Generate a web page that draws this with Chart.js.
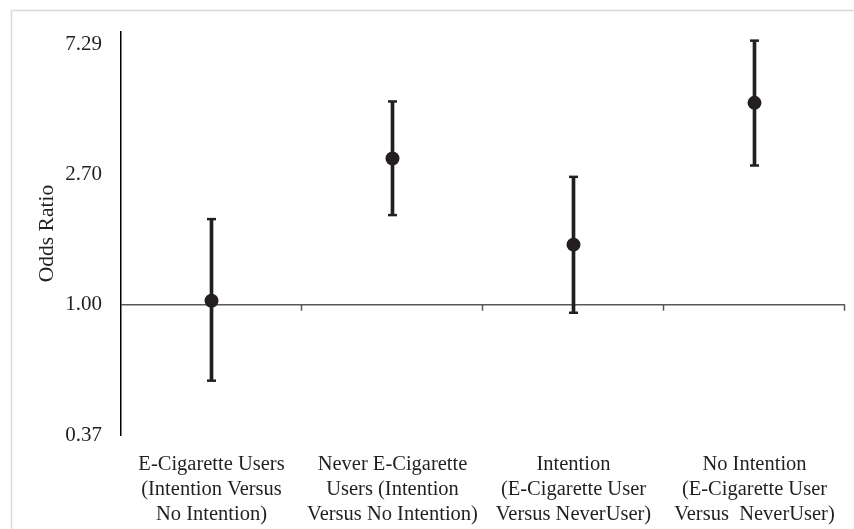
<!DOCTYPE html>
<html>
<head>
<meta charset="utf-8">
<script src="https://cdn.jsdelivr.net/npm/chart.js@4/dist/chart.umd.min.js"></script>
<style>
  html, body { margin: 0; padding: 0; background: #ffffff; }
  #wrap { width: 854px; height: 529px; position: relative; }
</style>
</head>
<body>
<div id="wrap"><canvas id="c" width="854" height="529"></canvas></div>
<script>
const categories = [
  ["E-Cigarette Users", "(Intention Versus", "No Intention)"],
  ["Never E-Cigarette", "Users (Intention", "Versus No Intention)"],
  ["Intention", "(E-Cigarette User", "Versus NeverUser)"],
  ["No Intention", "(E-Cigarette User", "Versus  NeverUser)"]
];
const oddsRatio = [1.03, 3.05, 1.58, 4.66];
const lowerCI   = [0.56, 1.98, 0.94, 2.89];
const upperCI   = [1.92, 4.71, 2.65, 7.49];
const yTicks    = [0.37, 1.00, 2.70, 7.29];
const yMin = 0.37, yMax = 8.0;
const refValue = 1.0;

const ink = '#231f20';
const fontFamily = '"Liberation Serif", "Times New Roman", serif';

const framePlugin = {
  id: 'frame',
  beforeDraw(chart) {
    const ctx = chart.ctx;
    ctx.save();
    ctx.fillStyle = '#ffffff';
    ctx.fillRect(0, 0, chart.width, chart.height);
    ctx.strokeStyle = '#d9d9d9';
    ctx.lineWidth = 1.5;
    ctx.strokeRect(11.5, 10.5, chart.width + 20, chart.height + 20);
    ctx.restore();
  }
};

const refLinePlugin = {
  id: 'refLine',
  beforeDatasetsDraw(chart) {
    const ctx = chart.ctx;
    const area = chart.chartArea;
    const y = chart.scales.y.getPixelForValue(refValue);
    const n = categories.length;
    const w = (area.right - area.left) / n;
    ctx.save();
    ctx.strokeStyle = '#595959';
    ctx.lineWidth = 1.5;
    ctx.beginPath();
    ctx.moveTo(area.left, y);
    ctx.lineTo(area.right, y);
    for (let k = 1; k <= n; k++) {
      const x = Math.round(area.left + k * w) - 0.5;
      ctx.moveTo(x, y);
      ctx.lineTo(x, y + 6);
    }
    ctx.stroke();
    ctx.restore();
  }
};

new Chart(document.getElementById('c'), {
  type: 'bar',
  data: {
    labels: categories,
    datasets: [
      {
        type: 'line',
        data: oddsRatio,
        showLine: false,
        pointStyle: 'circle',
        pointRadius: 7,
        pointBackgroundColor: ink,
        pointBorderWidth: 0,
        order: 0
      },
      {
        type: 'line',
        data: upperCI,
        showLine: false,
        pointStyle: 'line',
        pointRadius: 4.5,
        pointBorderColor: ink,
        pointBorderWidth: 2.5,
        order: 1
      },
      {
        type: 'line',
        data: lowerCI,
        showLine: false,
        pointStyle: 'line',
        pointRadius: 4.5,
        pointBorderColor: ink,
        pointBorderWidth: 2.5,
        order: 1
      },
      {
        type: 'bar',
        data: categories.map((c, i) => [lowerCI[i], upperCI[i]]),
        backgroundColor: ink,
        borderWidth: 0,
        barThickness: 3,
        order: 2
      }
    ]
  },
  options: {
    responsive: false,
    animation: false,
    devicePixelRatio: 1,
    layout: { padding: { top: 32, right: 9, left: 0, bottom: 0 } },
    plugins: {
      legend: { display: false },
      tooltip: { enabled: false }
    },
    scales: {
      x: {
        type: 'category',
        offset: true,
        grid: { display: false, drawTicks: false },
        border: { display: false },
        ticks: {
          color: ink,
          font: { family: fontFamily, size: 20.5, lineHeight: 1.22 },
          padding: 17,
          maxRotation: 0,
          autoSkip: false
        },
        afterFit(scale) { scale.height = 94; }
      },
      y: {
        type: 'logarithmic',
        min: yMin,
        max: yMax,
        afterBuildTicks(scale) {
          scale.ticks = yTicks.map(v => ({ value: v }));
        },
        grid: { display: false, drawTicks: false },
        border: { display: true, color: '#000000', width: 1.5 },
        ticks: {
          color: ink,
          font: { family: fontFamily, size: 21 },
          padding: 19,
          callback: (v) => Number(v).toFixed(2)
        },
        title: {
          display: true,
          text: 'Odds Ratio',
          color: ink,
          font: { family: fontFamily, size: 21.5 },
          padding: { top: 34, bottom: 0 }
        },
        afterFit(scale) { scale.width = 121; }
      }
    }
  },
  plugins: [framePlugin, refLinePlugin]
});
</script>
</body>
</html>
